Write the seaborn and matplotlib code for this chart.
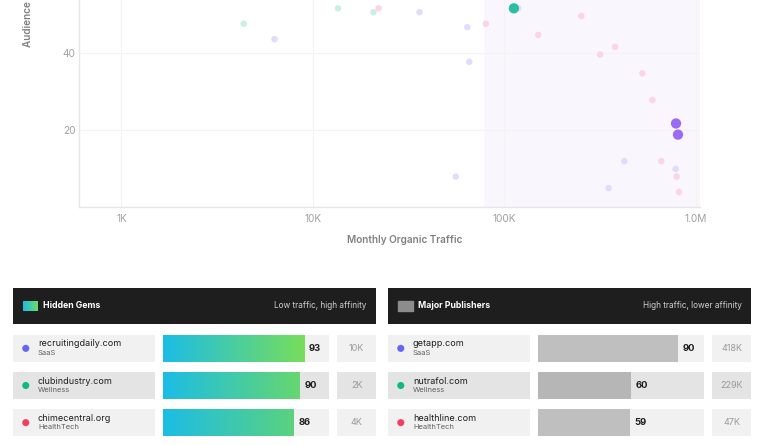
import numpy as np
import pandas as pd
import matplotlib
matplotlib.use("Agg")
import matplotlib.pyplot as plt
from matplotlib.colors import LinearSegmentedColormap, Normalize
import seaborn as sns

# ---- scatter data (monthly organic traffic vs audience affinity) ----
traffic = [4350, 6300, 13500, 20700, 22000, 36000, 64000, 80000, 118000, 252000,
           150000, 378000, 316000, 65500, 525000, 592000, 423000, 659000, 783000,
           793000, 55700, 350000, 816000]
affinity = [47.6, 43.6, 51.6, 50.6, 51.6, 50.6, 46.7, 47.6, 51.6, 49.6,
            44.7, 41.6, 39.6, 37.7, 34.7, 27.8, 11.9, 11.9, 9.9,
            7.9, 7.9, 4.9, 3.9]
segment = ["Wellness", "SaaS", "Wellness", "Wellness", "HealthTech", "SaaS", "SaaS",
           "HealthTech", "SaaS", "HealthTech", "HealthTech", "HealthTech", "HealthTech",
           "SaaS", "HealthTech", "HealthTech", "SaaS", "HealthTech", "SaaS",
           "HealthTech", "SaaS", "SaaS", "HealthTech"]

highlight_traffic = [112000, 787000, 806000]
highlight_affinity = [51.6, 21.7, 18.8]
highlight_group = ["gem", "publisher", "publisher"]

major_threshold = 78000
x_ticks = [1000, 10000, 100000, 1000000]
x_tick_labels = ["1K", "10K", "100K", "1.0M"]
y_ticks = [20, 40]

# ---- tables ----
gem_sites = ["recruitingdaily.com", "clubindustry.com", "chimecentral.org"]
gem_categories = ["SaaS", "Wellness", "HealthTech"]
gem_scores = [93, 90, 86]
gem_traffic = ["10K", "2K", "4K"]

pub_sites = ["getapp.com", "nutrafol.com", "healthline.com"]
pub_categories = ["SaaS", "Wellness", "HealthTech"]
pub_scores = [90, 60, 59]
pub_traffic = ["418K", "229K", "47K"]

seg_faded = {"SaaS": "#e2dcfc", "Wellness": "#c9f0e6", "HealthTech": "#fbd5e7"}
seg_solid = {"SaaS": "#6366f1", "Wellness": "#10b981", "HealthTech": "#f43f5e"}
hl_colors = {"gem": "#2bbfa2", "publisher": "#9b6cf3"}

sns.set_theme(style="white")
plt.rcParams["font.family"] = ["Inter", "DejaVu Sans"]

W, H = 766, 445
fig = plt.figure(figsize=(W / 100, H / 100), dpi=100)


def px_axes(x0, y0, x1, y1):
    return fig.add_axes([x0 / W, 1 - y1 / H, (x1 - x0) / W, (y1 - y0) / H])


# ---------------- scatter ----------------
ax = px_axes(79, 207 - 385, 700, 207)
ax.axvspan(major_threshold, 1.05e6, color="#faf6fe", zorder=0, lw=0)
df = pd.DataFrame({"traffic": traffic, "affinity": affinity, "segment": segment})
sns.scatterplot(data=df, x="traffic", y="affinity", hue="segment", palette=seg_faded,
                s=22, linewidth=0, legend=False, ax=ax, zorder=3)
hl = pd.DataFrame({"traffic": highlight_traffic, "affinity": highlight_affinity,
                   "group": highlight_group})
sns.scatterplot(data=hl, x="traffic", y="affinity", hue="group", palette=hl_colors,
                s=55, linewidth=0, legend=False, ax=ax, zorder=4)
ax.set_xscale("log")
ax.set_xlim(600, 1.05e6)
ax.set_ylim(0, 100)
ax.set_xticks(x_ticks)
ax.set_xticklabels(x_tick_labels)
ax.minorticks_off()
ax.set_yticks(y_ticks)
ax.tick_params(length=0, labelsize=7.3, colors="#a0a0a0")
ax.tick_params(axis="x", pad=5)
ax.tick_params(axis="y", pad=2.5)
ax.grid(True, color="#f3f3f3", lw=0.8)
ax.set_axisbelow(True)
for side in ["top", "right"]:
    ax.spines[side].set_visible(False)
for side in ["left", "bottom"]:
    ax.spines[side].set_color("#e6e6e6")
    ax.spines[side].set_linewidth(1)
ax.set_xlabel("Monthly Organic Traffic", fontsize=7.2, fontweight="semibold",
              color="#808080")
ax.xaxis.set_label_coords((405 - 79) / 621, -(240 - 207) / 385)
ax.xaxis.label.set_va("center")
ax.set_ylabel("")
ax.text(-0.082, (207 - 47) / 385, "Audience Affinity", rotation=90, ha="center",
        va="bottom", transform=ax.transAxes, fontsize=7.2, fontweight="semibold",
        color="#808080")

# ---------------- tables ----------------
gem_start = "#1cbde6"
end_cmap = LinearSegmentedColormap.from_list("gem_end", ["#5ad27f", "#84e24c"])
end_norm = Normalize(88, 95)
header_cmap = LinearSegmentedColormap.from_list("gem_icon", [gem_start, "#6edb66"])
row_bg = ["#f1f1f1", "#e4e4e4", "#f1f1f1"]
rows_top, rows_bottom = 335, 436
bar_h = 0.72


def panel(x0, title, subtitle, sites, cats, scores, trafs, gradient, xmax):
    # header
    hdr = px_axes(x0, 288, x0 + 363, 324)
    hdr.set_facecolor("#1e1e1e")
    hdr.set_xticks([])
    hdr.set_yticks([])
    for s in hdr.spines.values():
        s.set_visible(False)
    if gradient:
        hdr.imshow(np.linspace(0, 1, 50).reshape(1, -1), cmap=header_cmap,
                   extent=(10, 25, 23, 13), aspect="auto")
    else:
        hdr.add_patch(plt.Rectangle((10, 13), 15, 10, color="#8c8c8c"))
    hdr.set_xlim(0, 363)
    hdr.set_ylim(36, 0)
    hdr.text(30, 18, title, color="white", fontsize=6.3, fontweight="bold",
             va="center", ha="left")
    hdr.text(353.5, 18, subtitle, color="#cfcfcf", fontsize=5.9, va="center", ha="right")

    rows = np.arange(len(sites))

    def row_axes(a, b, xlim):
        r = px_axes(x0 + a, rows_top, x0 + b, rows_bottom)
        r.set_xlim(0, xlim)
        r.set_ylim(2 + 0.5 * bar_h, -0.5 * bar_h)
        r.axis("off")
        r.barh(rows, xlim, height=bar_h, color=row_bg, lw=0, zorder=0)
        return r

    # name column
    nm = row_axes(0, 142, 1)
    nm.scatter([0.09] * len(rows), rows, s=26, c=[seg_solid[c] for c in cats],
               lw=0, zorder=3)
    for i in rows:
        nm.text(0.176, i - 0.12, sites[i], fontsize=6.5, color="#1e1e1e",
                va="center", ha="left")
        nm.text(0.176, i + 0.13, cats[i], fontsize=5.4, color="#5f5f5f",
                va="center", ha="left")

    # bar column
    br = row_axes(150, 316, xmax)
    if gradient:
        for i in rows:
            cm = LinearSegmentedColormap.from_list(
                "g%d" % i, [gem_start, end_cmap(end_norm(scores[i]))])
            br.imshow(np.linspace(0, 1, 256).reshape(1, -1), cmap=cm,
                      extent=(0, scores[i], i + bar_h / 2, i - bar_h / 2),
                      aspect="auto", zorder=2)
        br.set_xlim(0, xmax)
        br.set_ylim(2 + 0.5 * bar_h, -0.5 * bar_h)
    else:
        pub_colors = ["#bfbfbf", "#b6b6b6", "#bfbfbf"]
        br.barh(rows, scores, height=bar_h, color=pub_colors, lw=0, zorder=2)
    for i in rows:
        br.annotate(str(scores[i]), (scores[i], i), xytext=(3.4, 0),
                    textcoords="offset points", va="center", ha="left",
                    fontsize=6.8, fontweight="bold", color="#1e1e1e")

    # traffic column
    tr = row_axes(324, 363, 1)
    for i in rows:
        tr.text(0.5, i, trafs[i], fontsize=6.5, color="#9a9a9a", va="center",
                ha="center")


panel(13, "Hidden Gems", "Low traffic, high affinity", gem_sites, gem_categories,
      gem_scores, gem_traffic, True, 166 / 1.52)
panel(388, "Major Publishers", "High traffic, lower affinity", pub_sites,
      pub_categories, pub_scores, pub_traffic, False, 166 / 1.556)

fig.savefig("out.png", dpi=100, facecolor="white")
